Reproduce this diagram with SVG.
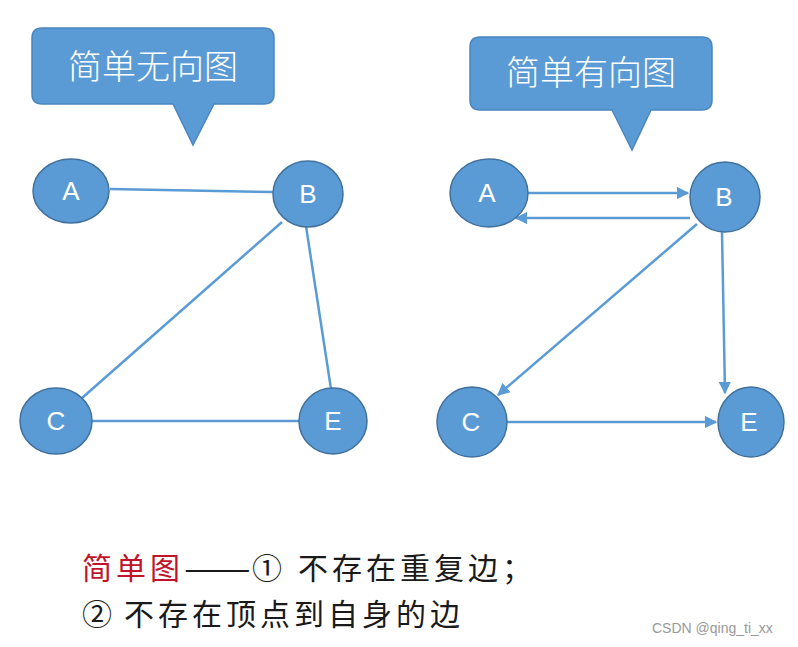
<svg xmlns="http://www.w3.org/2000/svg" width="798" height="647" viewBox="0 0 798 647">
<defs>
<marker id="arr" viewBox="0 0 10 10" refX="9" refY="5" markerWidth="5" markerHeight="5" orient="auto" markerUnits="strokeWidth">
<path d="M0,0 L10,5 L0,10 z" fill="#5b9bd5"/>
</marker>
</defs>
<style>
.callout{fill:#5b9bd5;stroke:#4a86c0;stroke-width:1.5}
.ctext{fill:#ffffff;font-family:"Noto Sans CJK SC",sans-serif;font-size:34px;font-weight:300;text-anchor:middle}
.node{fill:#5b9bd5;stroke:#41719c;stroke-width:1.5}
.ntext{fill:#ffffff;font-family:"Liberation Sans",Arial,sans-serif;font-size:26px;text-anchor:middle}
.edge{stroke:#5b9bd5;stroke-width:2.5;fill:none}
.darr{marker-end:url(#arr)}
.body{font-family:"Noto Sans CJK SC",sans-serif;font-size:30px;font-weight:normal;fill:#1a1a1a;letter-spacing:4px}
.red{fill:#c0142a}
</style>
<rect width="798" height="647" fill="#ffffff"/>
<g id="callout-left">
<path class="callout" d="M42,28 H264 Q274,28 274,38 V94 Q274,104 264,104 H214 L193,145 L173,104 H42 Q32,104 32,94 V38 Q32,28 42,28 Z"/>
<text class="ctext" x="153" y="79">简单无向图</text>
</g>
<g id="callout-right">
<path class="callout" d="M480,37 H702 Q712,37 712,47 V100 Q712,110 702,110 H651 L632,150 L612,110 H480 Q470,110 470,100 V47 Q470,37 480,37 Z"/>
<text class="ctext" x="591" y="85">简单有向图</text>
</g>
<g id="edges">
<line class="edge" x1="110" y1="189" x2="273" y2="192"/>
<line class="edge" x1="282" y1="222" x2="82" y2="398"/>
<line class="edge" x1="306" y1="226" x2="331" y2="389"/>
<line class="edge" x1="92" y1="421" x2="299" y2="421"/>
<line class="edge darr" x1="528" y1="193" x2="688" y2="193"/>
<line class="edge darr" x1="690" y1="218" x2="516" y2="218"/>
<line class="edge darr" x1="697" y1="224" x2="498" y2="395"/>
<line class="edge darr" x1="722" y1="232" x2="725" y2="393"/>
<line class="edge darr" x1="507" y1="422" x2="716" y2="422"/>
</g>
<g id="L-A"><ellipse class="node" cx="71" cy="191" rx="38" ry="32"/><text class="ntext" x="71" y="200">A</text></g>
<g id="L-B"><ellipse class="node" cx="308" cy="194" rx="35" ry="33"/><text class="ntext" x="308" y="203">B</text></g>
<g id="L-C"><ellipse class="node" cx="56" cy="421" rx="36" ry="33"/><text class="ntext" x="56" y="430">C</text></g>
<g id="L-E"><ellipse class="node" cx="333" cy="421" rx="34" ry="33"/><text class="ntext" x="333" y="430">E</text></g>
<g id="R-A"><ellipse class="node" cx="489" cy="193" rx="39" ry="34"/><text class="ntext" x="487" y="202">A</text></g>
<g id="R-B"><ellipse class="node" cx="725" cy="197" rx="35" ry="35"/><text class="ntext" x="724" y="206">B</text></g>
<g id="R-C"><ellipse class="node" cx="472" cy="422" rx="35" ry="35"/><text class="ntext" x="471" y="431">C</text></g>
<g id="R-E"><ellipse class="node" cx="751" cy="422" rx="33" ry="35"/><text class="ntext" x="749" y="431">E</text></g>
<g id="caption">
<text class="body" x="82" y="579"><tspan class="red">简单图</tspan><tspan x="184" textLength="72" lengthAdjust="spacingAndGlyphs">——</tspan><tspan x="252">①</tspan><tspan x="298">不存在重复边；</tspan></text>
<text class="body" x="82" y="625">②<tspan x="124">不存在顶点到自身的边</tspan></text>
</g>
<text x="652" y="633" font-family="Liberation Sans,Arial,sans-serif" font-size="14" fill="#999999">CSDN @qing_ti_xx</text>
</svg>
